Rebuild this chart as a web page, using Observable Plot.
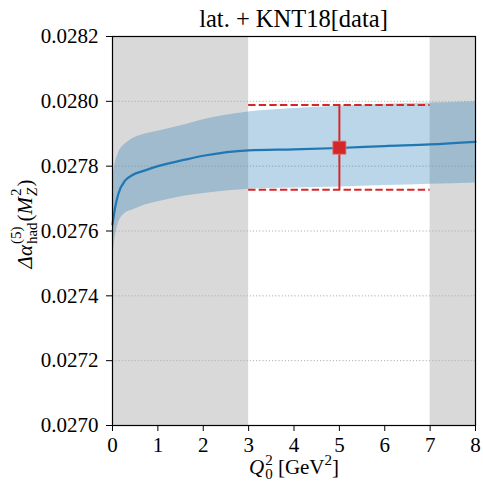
<!DOCTYPE html>
<html>
<head>
<meta charset="utf-8">
<script src="https://cdn.jsdelivr.net/npm/d3@7"></script>
<script src="https://cdn.jsdelivr.net/npm/@observablehq/plot@0.6"></script>
<style>
  html, body { margin: 0; padding: 0; background: #fff; }
  #chart { width: 483px; height: 486px; }
</style>
</head>
<body>
<div id="chart"></div>
<script>
// ---- data ----
const titleText = "lat. + KNT18[data]";
const q2 = [0, 0.06, 0.13, 0.28, 0.43, 0.72, 1.0, 1.6, 2.0, 3.0, 4.0, 5.0, 6.0, 7.0, 8.0];
const central = [0.027620, 0.027674, 0.027715, 0.027756, 0.027772, 0.027787, 0.027800, 0.027820, 0.027832, 0.027849, 0.027852, 0.027856, 0.027862, 0.027867, 0.027875];
const upper = [0.027760, 0.027810, 0.027840, 0.027868, 0.027884, 0.027899, 0.027908, 0.027928, 0.027943, 0.027967, 0.027978, 0.027985, 0.027991, 0.027995, 0.027999];
const lower = [0.027512, 0.027582, 0.027624, 0.027655, 0.027664, 0.027680, 0.027690, 0.027708, 0.027716, 0.027729, 0.027733, 0.027736, 0.027740, 0.027744, 0.027748];
const shadedRanges = [[0, 3], [7, 8]];
const kntQ2 = 5;
const kntValue = 0.027857;
const kntUpper = 0.027989;
const kntLower = 0.027727;
const kntRange = [3, 7];
const xTicks = [0, 1, 2, 3, 4, 5, 6, 7, 8];
const yTicks = [0.0270, 0.0272, 0.0274, 0.0276, 0.0278, 0.0280, 0.0282];

const rows = q2.map((q, i) => ({q, c: central[i], hi: upper[i], lo: lower[i]}));
const shaded = shadedRanges.map(([a, b]) => ({a, b}));
const bounds = [kntUpper, kntLower];

const serif = "Liberation Serif";
const blue = "#1f77b4";
const red = "#d62728";

const plot = Plot.plot({
  width: 483,
  height: 486,
  marginLeft: 112,
  marginRight: 8,
  marginTop: 36,
  marginBottom: 61,
  style: "font-family: 'Liberation Serif'; font-size: 21px; background: #fff; color: #000;",
  x: {domain: [0, 8]},
  y: {domain: [0.0270, 0.0282]},
  marks: [
    Plot.rect(shaded, {x1: "a", x2: "b", fill: "#d9d9d9"}),
    Plot.gridY(yTicks.slice(1, -1), {stroke: "#b0b0b0", strokeOpacity: 1, strokeDasharray: "1.2,2"}),
    Plot.areaY(rows, {x: "q", y1: "lo", y2: "hi", fill: blue, fillOpacity: 0.3, curve: "monotone-x"}),
    Plot.line(rows, {x: "q", y: "c", stroke: blue, strokeWidth: 2.2, curve: "monotone-x"}),
    Plot.ruleY(bounds, {y: d => d, x1: kntRange[0], x2: kntRange[1], stroke: red, strokeWidth: 2, strokeDasharray: "7.4,3.2"}),
    Plot.ruleX([kntQ2], {x: d => d, y1: kntLower, y2: kntUpper, stroke: red, strokeWidth: 2}),
    Plot.dot([kntQ2], {x: d => d, y: kntValue, symbol: "square", r: 7.4, fill: red, stroke: "#e07778", strokeWidth: 0.8}),
    Plot.frame({stroke: "#000", strokeWidth: 1.2}),
    Plot.axisX(xTicks, {tickSize: 6, tickPadding: 6, label: null, fontSize: 21, fontFamily: serif}),
    Plot.axisY(yTicks, {tickSize: 6, tickPadding: 8, label: null, tickFormat: d3.format(".4f"), fontSize: 21, fontFamily: serif})
  ]
});

document.getElementById("chart").appendChild(plot);
const svg = d3.select(plot);

// Rich text helper (pieces with italics, sub/superscripts)
function richText(x, y, rotate, pieces) {
  const g = svg.append("g").attr("fill", "#000");
  const inner = g.append("g");
  let cursor = 0;
  const mk = (xx, s) => inner.append("text")
    .attr("x", xx).attr("y", s.shift || 0)
    .attr("text-anchor", "start")
    .attr("font-family", serif)
    .attr("font-size", s.size)
    .attr("font-style", s.italic ? "italic" : "normal")
    .style("font-family", serif)
    .style("font-size", s.size + "px")
    .text(s.text);
  for (const p of pieces) {
    if (p.stack) {
      let w = 0;
      for (const s of p.stack) w = Math.max(w, mk(cursor, s).node().getComputedTextLength());
      cursor += w + (p.after || 0);
    } else {
      cursor += mk(cursor, p).node().getComputedTextLength() + (p.after || 0);
    }
  }
  inner.attr("transform", `translate(${-cursor / 2},0)`);
  g.attr("transform", `translate(${x},${y}) rotate(${rotate})`);
}

// Title
svg.append("text")
  .attr("x", 293.5).attr("y", 27)
  .attr("text-anchor", "middle")
  .attr("font-family", serif).attr("font-size", 24.5)
  .style("font-family", serif).style("font-size", "24.5px")
  .text(titleText);

// X label: Q_0^2 [GeV^2]
richText(294, 474, 0, [
  {text: "Q", italic: true, size: 21, after: 1},
  {stack: [{text: "2", size: 15, shift: -9}, {text: "0", size: 15, shift: 5}], after: 0},
  {text: " [GeV", size: 21},
  {text: "2", size: 15, shift: -9},
  {text: "]", size: 21}
]);

// Y label: Δα_had^(5)(M_Z^2)
richText(32, 224, -90, [
  {text: "Δα", italic: true, size: 21, after: 1},
  {stack: [{text: "(5)", size: 15, shift: -11}, {text: "had", size: 15, shift: 5}], after: 1},
  {text: "(", size: 21},
  {text: "M", italic: true, size: 21, after: 1},
  {stack: [{text: "2", size: 15, shift: -11}, {text: "Z", italic: true, size: 15, shift: 5}], after: 1},
  {text: ")", size: 21}
]);
</script>
</body>
</html>
